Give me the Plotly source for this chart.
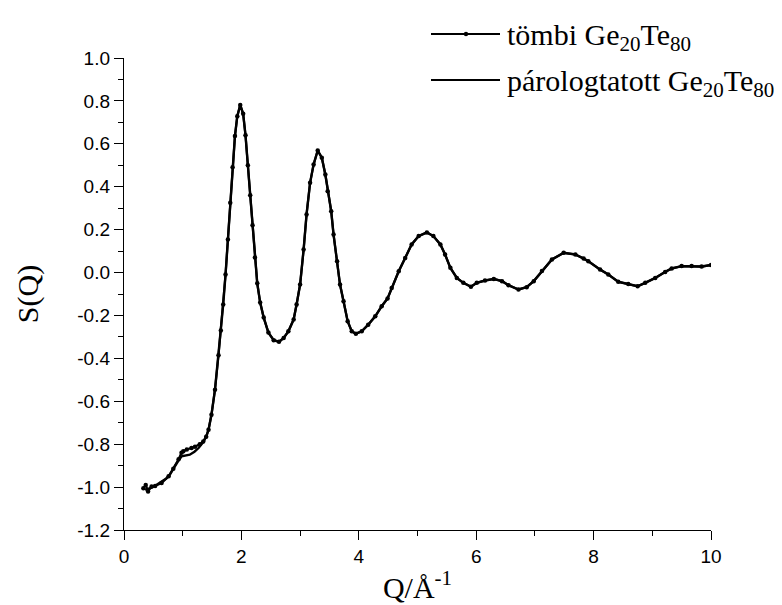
import plotly.graph_objects as go

# ---- data ----
q_bulk = [0.33, 0.37, 0.41, 0.47, 0.53, 0.64, 0.76, 0.84, 0.93, 0.98, 1.01, 1.07, 1.15, 1.21, 1.29, 1.35, 1.40,
          1.44, 1.49, 1.55, 1.61, 1.65, 1.69, 1.73, 1.77, 1.81, 1.85, 1.89, 1.93, 1.98,
          2.03, 2.07, 2.11, 2.15, 2.19, 2.23, 2.27, 2.32, 2.38, 2.46, 2.55, 2.64, 2.72, 2.80, 2.89, 2.94,
          3.00, 3.06, 3.11, 3.17, 3.23, 3.30, 3.37, 3.43, 3.47, 3.53, 3.57, 3.63, 3.68, 3.74, 3.81, 3.88, 3.95,
          4.05, 4.16, 4.28, 4.39, 4.49, 4.56, 4.68, 4.79, 4.90, 5.02, 5.16, 5.27, 5.39, 5.47, 5.56, 5.67, 5.78,
          5.91, 6.01, 6.15, 6.30, 6.44, 6.55, 6.72, 6.86, 6.98, 7.12, 7.29, 7.49, 7.69, 7.83, 7.91,
          8.11, 8.25, 8.42, 8.59, 8.75, 8.88, 9.05, 9.22, 9.33, 9.50, 9.67, 9.84, 10.0]
s_bulk = [-1.005, -0.99, -1.02, -0.997, -0.995, -0.981, -0.950, -0.915, -0.870, -0.840, -0.833, -0.825, -0.818, -0.812, -0.800, -0.787, -0.765,
          -0.733, -0.663, -0.546, -0.386, -0.270, -0.149, -0.009, 0.154, 0.325, 0.491, 0.636, 0.729, 0.781,
          0.740, 0.640, 0.500, 0.360, 0.220, 0.070, -0.050, -0.140, -0.210, -0.280, -0.315, -0.323, -0.305, -0.274, -0.219, -0.149,
          -0.056, 0.107, 0.271, 0.418, 0.504, 0.569, 0.535, 0.457, 0.379, 0.286, 0.177, 0.053, -0.056, -0.134, -0.227, -0.274, -0.285,
          -0.274, -0.243, -0.204, -0.157, -0.121, -0.072, 0.006, 0.068, 0.131, 0.170, 0.187, 0.170, 0.131, 0.084, 0.022, -0.025, -0.048,
          -0.066, -0.048, -0.037, -0.030, -0.040, -0.059, -0.079, -0.068, -0.040, 0.007, 0.061, 0.092, 0.084, 0.065, 0.053,
          0.014, -0.009, -0.043, -0.053, -0.064, -0.048, -0.025, 0.003, 0.019, 0.030, 0.030, 0.028, 0.035]

q_evap = [0.36, 0.47, 0.55, 0.64, 0.72, 0.78, 0.87, 0.93, 0.98, 1.05, 1.12, 1.20, 1.27, 1.35, 1.40,
          1.44, 1.49, 1.55, 1.61, 1.65, 1.69, 1.73, 1.77, 1.81, 1.85, 1.89, 1.93, 1.98,
          2.03, 2.07, 2.11, 2.15, 2.19, 2.23, 2.27, 2.32, 2.38, 2.46, 2.55, 2.64, 2.72, 2.80, 2.89, 2.94,
          3.00, 3.06, 3.11, 3.17, 3.23, 3.30, 3.37, 3.43, 3.47, 3.53, 3.57, 3.63, 3.68, 3.74, 3.81, 3.88, 3.95,
          4.05, 4.16, 4.28, 4.39, 4.49, 4.56, 4.68, 4.79, 4.90, 5.02, 5.16, 5.27, 5.39, 5.47, 5.56, 5.67, 5.78,
          5.91, 6.01, 6.15, 6.30, 6.44, 6.55, 6.72, 6.86, 6.98, 7.12, 7.29, 7.49, 7.69, 7.83, 7.91,
          8.11, 8.25, 8.42, 8.59, 8.75, 8.88, 9.05, 9.22, 9.33, 9.50, 9.67, 9.84, 10.0]
s_evap = [-1.013, -1.003, -0.990, -0.975, -0.960, -0.943, -0.900, -0.875, -0.857, -0.852, -0.849, -0.835, -0.818, -0.790, -0.765,
          -0.733, -0.663, -0.546, -0.386, -0.270, -0.149, -0.009, 0.154, 0.325, 0.491, 0.636, 0.729, 0.781,
          0.740, 0.640, 0.500, 0.360, 0.220, 0.070, -0.050, -0.140, -0.210, -0.280, -0.315, -0.323, -0.305, -0.274, -0.219, -0.149,
          -0.056, 0.107, 0.271, 0.418, 0.504, 0.569, 0.535, 0.457, 0.379, 0.286, 0.177, 0.053, -0.056, -0.134, -0.227, -0.274, -0.285,
          -0.274, -0.243, -0.204, -0.157, -0.121, -0.072, 0.006, 0.068, 0.131, 0.170, 0.187, 0.170, 0.131, 0.084, 0.022, -0.025, -0.048,
          -0.066, -0.048, -0.037, -0.030, -0.040, -0.059, -0.079, -0.068, -0.040, 0.007, 0.061, 0.092, 0.084, 0.065, 0.053,
          0.014, -0.009, -0.043, -0.053, -0.064, -0.048, -0.025, 0.003, 0.019, 0.030, 0.030, 0.028, 0.035]

x_tickvals = [0, 2, 4, 6, 8, 10]
x_ticktext = ["0", "2", "4", "6", "8", "10"]
y_tickvals = [-1.2, -1.0, -0.8, -0.6, -0.4, -0.2, 0.0, 0.2, 0.4, 0.6, 0.8, 1.0]
y_ticktext = ["-1.2", "-1.0", "-0.8", "-0.6", "-0.4", "-0.2", "0.0", "0.2", "0.4", "0.6", "0.8", "1.0"]

legend_names = ["tömbi Ge<sub>20</sub>Te<sub>80</sub>", "párologtatott Ge<sub>20</sub>Te<sub>80</sub>"]

SERIF = "Liberation Serif, Times New Roman, serif"
SANS = "Liberation Sans, Arial, sans-serif"

fig = go.Figure()
fig.add_trace(go.Scatter(x=q_evap, y=s_evap, mode="lines", name=legend_names[1],
                         line=dict(color="black", width=2.4), showlegend=False))
fig.add_trace(go.Scatter(x=q_bulk, y=s_bulk, mode="lines+markers", name=legend_names[0],
                         line=dict(color="black", width=2.2),
                         marker=dict(color="black", size=4.5, symbol="circle"), showlegend=False))

# plot area in pixels
W, H = 782, 605
L, R, T, B = 116, 79, 50, 83
pw, ph = W - L - R, H - T - B

def px(x):
    return (x - L) / pw

def py(y):
    return (H - B - y) / ph

shapes = []
annotations = []
# manual legend (line sample + text)
for i, yy in enumerate([26, 72]):
    shapes.append(dict(type="line", xref="paper", yref="paper", x0=px(423), x1=px(492), y0=py(yy), y1=py(yy),
                       line=dict(color="black", width=2)))
    annotations.append(dict(xref="paper", yref="paper", x=px(497), y=py(yy + 3), xanchor="left", yanchor="middle",
                            text=legend_names[i], showarrow=False,
                            font=dict(family=SERIF, size=30, color="black")))
shapes.append(dict(type="circle", xref="paper", yref="paper", xsizemode="pixel", ysizemode="pixel",
                   xanchor=px(458), yanchor=py(26), x0=-2.2, x1=2.2, y0=-2.2, y1=2.2,
                   fillcolor="black", line=dict(color="black", width=0)))

fig.update_layout(
    width=W, height=H,
    margin=dict(l=L, r=R, t=T, b=B),
    paper_bgcolor="white", plot_bgcolor="white",
    shapes=shapes, annotations=annotations,
    showlegend=False,
)
fig.update_xaxes(
    range=[0, 10], showgrid=False, zeroline=False,
    showline=True, linecolor="black", linewidth=1.4,
    ticks="outside", ticklen=9, tickwidth=1.4, tickcolor="black",
    tickvals=x_tickvals, ticktext=x_ticktext,
    minor=dict(ticks="outside", ticklen=5, tickwidth=1.4, tickcolor="black", dtick=1, tick0=0, showgrid=False),
    tickfont=dict(family=SANS, size=19, color="black"),
    title=dict(text="Q/Å<sup>-1</sup>", font=dict(family=SERIF, size=30, color="black"), standoff=10),
)
fig.update_yaxes(
    range=[-1.2, 1.0], showgrid=False, zeroline=False,
    showline=True, linecolor="black", linewidth=1.4,
    ticks="outside", ticklen=9, tickwidth=1.4, tickcolor="black",
    tickvals=y_tickvals, ticktext=y_ticktext,
    minor=dict(ticks="outside", ticklen=5, tickwidth=1.4, tickcolor="black", dtick=0.1, tick0=0, showgrid=False),
    tickfont=dict(family=SANS, size=19, color="black"),
    title=dict(text="S(Q)", font=dict(family=SERIF, size=30, color="black"), standoff=29),
)

fig.write_html("out.html")
